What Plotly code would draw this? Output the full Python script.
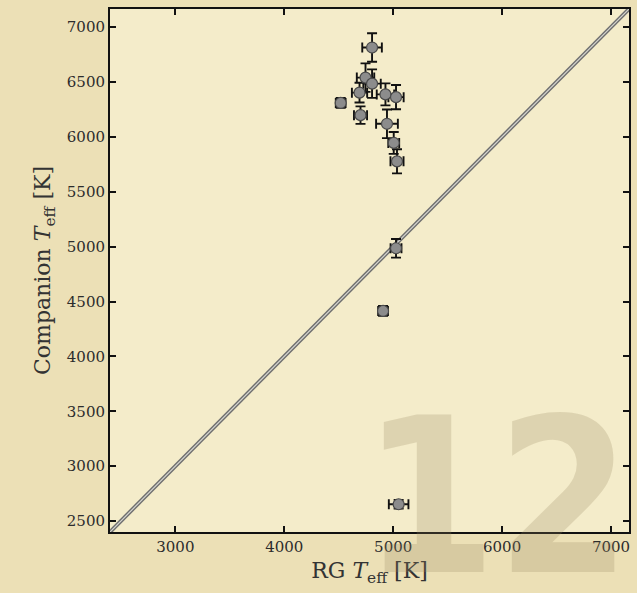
import plotly.graph_objects as go

# Data
rg_teff = [4806, 4746, 4806, 4691, 4929, 5026, 4518, 4700, 4943, 5005, 5035, 5026, 4907, 5050]
comp_teff = [6814, 6540, 6485, 6403, 6387, 6362, 6309, 6198, 6119, 5945, 5777, 4985, 4414, 2653]
rg_err = [90, 80, 80, 70, 80, 70, 45, 60, 100, 50, 60, 50, 45, 90]
comp_err = [130, 130, 130, 90, 100, 110, 45, 80, 130, 100, 110, 85, 45, 40]
diag = [2300, 7300]

AX_MIN, AX_MAX = 2400, 7165
FONT = "DejaVu Serif"

fig = go.Figure()

# one-to-one line (double-line look)
fig.add_trace(go.Scatter(x=diag, y=diag, mode="lines",
                         line=dict(color="#6e6e6e", width=4), hoverinfo="skip", showlegend=False))
fig.add_trace(go.Scatter(x=diag, y=diag, mode="lines",
                         line=dict(color="#d6d6d0", width=1.2), hoverinfo="skip", showlegend=False))

fig.add_trace(go.Scatter(
    x=rg_teff, y=comp_teff, mode="markers",
    error_x=dict(type="data", array=rg_err, color="#111", thickness=1.9, width=5),
    error_y=dict(type="data", array=comp_err, color="#111", thickness=1.9, width=5),
    marker=dict(size=11, color="#8c8c8c", line=dict(color="#4a4a4a", width=1.2)),
    showlegend=False))

axis_common = dict(
    range=[AX_MIN, AX_MAX], showgrid=False, zeroline=False,
    showline=True, linecolor="#111", linewidth=2, mirror="ticks",
    ticks="inside", ticklen=6, tickwidth=1.6, tickcolor="#111",
    tickfont=dict(family=FONT, size=15, color="#2c2c2c"),
)

fig.update_xaxes(**axis_common, tickvals=[3000, 4000, 5000, 6000, 7000],
                 title=dict(text="RG <i>T</i><sub>eff</sub> [K]",
                            font=dict(family=FONT, size=22, color="#333"), standoff=8))
fig.update_yaxes(**axis_common, tickvals=[2500, 3000, 3500, 4000, 4500, 5000, 5500, 6000, 6500, 7000],
                 title=dict(text="Companion <i>T</i><sub>eff</sub> [K]",
                            font=dict(family=FONT, size=22, color="#333"), standoff=10))

# watermark "12"
fig.add_annotation(text="<b>12</b>", xref="paper", yref="paper", x=0.745, y=-0.178,
                   xanchor="center", yanchor="bottom", showarrow=False,
                   font=dict(family="DejaVu Sans Condensed, sans-serif",
                             size=215, color="rgba(150,135,95,0.24)"))

fig.update_layout(
    width=637, height=593,
    margin=dict(l=110, r=6, t=9, b=61),
    paper_bgcolor="#ECE0B6",
    plot_bgcolor="#F4ECCA",
)

fig.write_html("out.html")
